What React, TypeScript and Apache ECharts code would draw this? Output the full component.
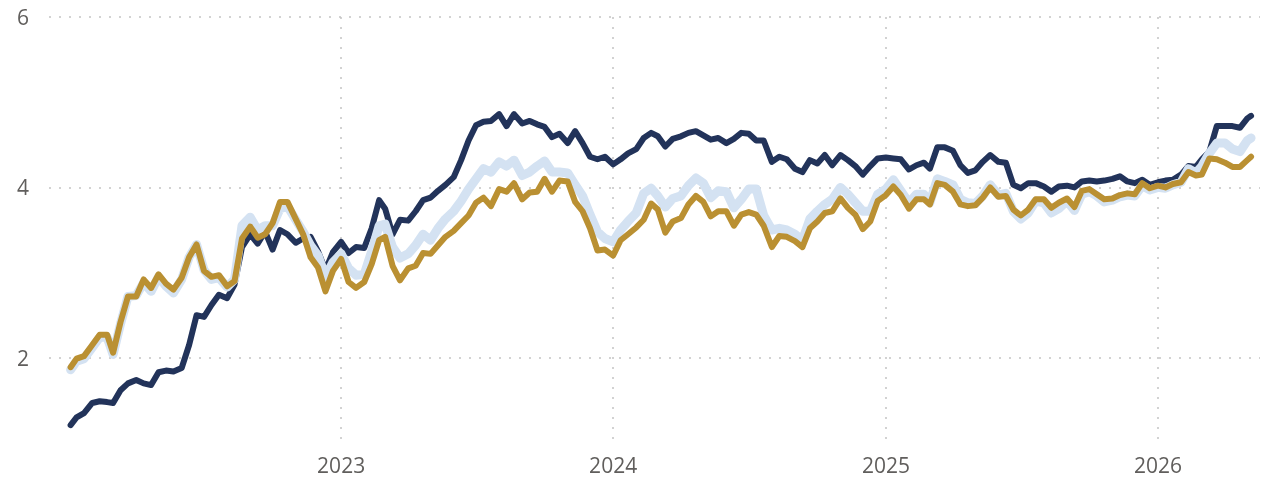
import React, { useEffect, useRef } from "react";
import * as echarts from "echarts";

const dates: string[] = [
  "2022-01-03","2022-01-11","2022-01-21","2022-02-01","2022-02-11","2022-02-21","2022-03-01","2022-03-11","2022-03-21",
  "2022-04-01","2022-04-11","2022-04-21","2022-05-01","2022-05-11","2022-05-21","2022-06-01","2022-06-11","2022-06-21",
  "2022-07-01","2022-07-11","2022-07-21","2022-08-01","2022-08-11","2022-08-21","2022-09-01","2022-09-11","2022-09-21",
  "2022-10-01","2022-10-11","2022-10-21","2022-11-01","2022-11-11","2022-11-21","2022-12-01","2022-12-11","2022-12-21",
  "2023-01-01","2023-01-11","2023-01-21","2023-02-01","2023-02-11","2023-02-21","2023-03-01","2023-03-11","2023-03-21",
  "2023-04-01","2023-04-11","2023-04-21","2023-05-01","2023-05-11","2023-05-21","2023-06-01","2023-06-11","2023-06-21",
  "2023-07-01","2023-07-11","2023-07-21","2023-08-01","2023-08-11","2023-08-21","2023-09-01","2023-09-11","2023-09-21",
  "2023-10-01","2023-10-11","2023-10-21","2023-11-01","2023-11-11","2023-11-21","2023-12-01","2023-12-11","2023-12-21",
  "2024-01-01","2024-01-11","2024-01-21","2024-02-01","2024-02-11","2024-02-21","2024-03-01","2024-03-11","2024-03-21",
  "2024-04-01","2024-04-11","2024-04-21","2024-05-01","2024-05-11","2024-05-21","2024-06-01","2024-06-11","2024-06-21",
  "2024-07-01","2024-07-11","2024-07-21","2024-08-01","2024-08-11","2024-08-21","2024-09-01","2024-09-11","2024-09-21",
  "2024-10-01","2024-10-11","2024-10-21","2024-11-01","2024-11-11","2024-11-21","2024-12-01","2024-12-11","2024-12-21",
  "2025-01-01","2025-01-11","2025-01-21","2025-02-01","2025-02-11","2025-02-21","2025-03-01","2025-03-11","2025-03-21",
  "2025-04-01","2025-04-11","2025-04-21","2025-05-01","2025-05-11","2025-05-21","2025-06-01","2025-06-11","2025-06-21",
  "2025-07-01","2025-07-11","2025-07-21","2025-08-01","2025-08-11","2025-08-21","2025-09-01","2025-09-11","2025-09-21",
  "2025-10-01","2025-10-11","2025-10-21","2025-11-01","2025-11-11","2025-11-21","2025-12-01","2025-12-11","2025-12-21",
  "2026-01-01","2026-01-11","2026-01-21","2026-02-01","2026-02-11","2026-02-21","2026-03-01","2026-03-11","2026-03-21",
  "2026-04-01","2026-04-11","2026-04-21","2026-05-01","2026-05-06",
];

const navySeries: number[] = [
  1.21,1.30,1.35, 1.47,1.49,1.48, 1.47,1.62,1.70, 1.74,1.70,1.68, 1.83,1.85,1.84, 1.88,2.15,2.50,
  2.48,2.62,2.74, 2.70,2.86,3.30, 3.45,3.34,3.48, 3.27,3.50,3.45, 3.35,3.40,3.42, 3.25,3.03,3.24,
  3.36,3.23,3.30, 3.29,3.52,3.85, 3.75,3.45,3.62, 3.61,3.72,3.85, 3.88,3.96,4.03, 4.12,4.32,4.55,
  4.73,4.77,4.78, 4.86,4.72,4.86, 4.75,4.78,4.74, 4.71,4.59,4.63, 4.52,4.66,4.52, 4.36,4.33,4.36,
  4.27,4.33,4.40, 4.45,4.58,4.64, 4.60,4.48,4.57, 4.60,4.64,4.66, 4.61,4.56,4.58, 4.52,4.57,4.64,
  4.63,4.55,4.55, 4.30,4.36,4.33, 4.22,4.18,4.32, 4.28,4.38,4.26, 4.38,4.32,4.25, 4.15,4.25,4.34,
  4.35,4.34,4.33, 4.21,4.26,4.29, 4.22,4.47,4.47, 4.43,4.26,4.17, 4.20,4.30,4.38, 4.30,4.29,4.03,
  3.99,4.05,4.05, 4.01,3.95,4.01, 4.02,4.00,4.07, 4.08,4.07,4.08, 4.10,4.13,4.07, 4.05,4.09,4.03,
  4.06,4.08,4.09, 4.15,4.25,4.24, 4.33,4.42,4.72, 4.72,4.72,4.70, 4.81,4.84,
];

const lightSeries: number[] = [
  1.86,1.96,1.99, 2.12,2.24,2.24, 2.04,2.40,2.72, 2.73,2.88,2.78, 2.95,2.84,2.76, 2.92,3.18,3.33,
  3.03,2.92,2.94, 2.83,2.92,3.55, 3.65,3.50,3.55, 3.55,3.75,3.78, 3.62,3.48,3.32, 3.20,2.95,3.12,
  3.22,3.05,2.97, 2.98,3.25,3.55, 3.57,3.30,3.17, 3.22,3.32,3.45, 3.38,3.52,3.63, 3.72,3.84,3.98,
  4.10,4.22,4.18, 4.30,4.25,4.32, 4.14,4.18,4.25, 4.31,4.18,4.18, 4.17,4.03,3.90, 3.68,3.48,3.40,
  3.36,3.50,3.60, 3.70,3.93,3.99, 3.90,3.77,3.87, 3.90,4.02,4.11, 4.05,3.88,3.96, 3.95,3.76,3.86,
  3.98,3.98,3.67, 3.50,3.52,3.50, 3.45,3.38,3.63, 3.72,3.80,3.86, 4.00,3.92,3.82, 3.72,3.72,3.92,
  3.98,4.09,3.96, 3.82,3.92,3.92, 3.82,4.10,4.07, 4.03,3.86,3.82, 3.81,3.90,4.03, 3.91,3.93,3.72,
  3.63,3.70,3.84, 3.82,3.70,3.75, 3.84,3.73,3.92, 3.95,3.90,3.83, 3.85,3.89,3.91, 3.90,4.02,3.97,
  4.00,3.99,4.03, 4.06,4.22,4.17, 4.25,4.40,4.52, 4.52,4.45,4.42, 4.55,4.58,
];

const goldSeries: number[] = [
  1.89,1.99,2.02, 2.15,2.27,2.27, 2.06,2.42,2.72, 2.72,2.92,2.82, 2.98,2.87,2.80, 2.94,3.18,3.33,
  3.02,2.95,2.97, 2.84,2.90,3.40, 3.54,3.41,3.45, 3.58,3.83,3.83, 3.63,3.45,3.18, 3.06,2.78,3.02,
  3.16,2.89,2.82, 2.89,3.10,3.38, 3.42,3.08,2.91, 3.05,3.08,3.23, 3.22,3.32,3.42, 3.49,3.58,3.67,
  3.82,3.88,3.78, 3.98,3.95,4.05, 3.86,3.94,3.95, 4.10,3.95,4.08, 4.07,3.83,3.72, 3.52,3.26,3.27,
  3.20,3.38,3.45, 3.53,3.62,3.81, 3.74,3.47,3.60, 3.64,3.80,3.90, 3.83,3.66,3.72, 3.72,3.55,3.68,
  3.71,3.68,3.55, 3.30,3.43,3.42, 3.37,3.30,3.52, 3.60,3.70,3.72, 3.87,3.76,3.68, 3.51,3.60,3.84,
  3.91,4.01,3.91, 3.75,3.86,3.86, 3.80,4.05,4.03, 3.95,3.80,3.78, 3.79,3.88,4.00, 3.89,3.90,3.74,
  3.67,3.74,3.86, 3.86,3.76,3.82, 3.87,3.77,3.96, 3.98,3.92,3.86, 3.87,3.91,3.93, 3.92,4.05,3.99,
  4.02,4.00,4.04, 4.06,4.18,4.14, 4.15,4.34,4.33, 4.29,4.24,4.24, 4.32,4.36,
];

const yLabelValues: number[] = [2, 4, 6];
const xLabelYears: string[] = ["2023-01-01", "2024-01-01", "2025-01-01", "2026-01-01"];
const xMin = "2021-12-05";
const xMax = "2026-05-18";

const ts = (d: string) => Date.UTC(+d.slice(0, 4), +d.slice(5, 7) - 1, +d.slice(8, 10));
const toPairs = (vals: number[]) => vals.map((v, i) => [ts(dates[i]), v]);

export default function App() {
  const ref = useRef<HTMLDivElement>(null);
  useEffect(() => {
    if (!ref.current) return;
    const chart = echarts.init(ref.current, null, { renderer: "svg" });
    const yearTs = xLabelYears.map(ts);
    const gridLine = { show: true, lineStyle: { color: "#c4c4c4", width: 1.5, type: [2, 8] as any } };
    const labelStyle = {
      color: "#605e5c",
      fontSize: 21,
      fontFamily: "'Open Sans', 'Segoe UI', sans-serif",
    };
    chart.setOption({
      animation: false,
      grid: { left: 49, right: 21, top: 17, bottom: 38, containLabel: false },
      xAxis: {
        type: "value",
        min: ts(xMin),
        max: ts(xMax),
        axisLine: { show: false },
        axisTick: { show: false, customValues: yearTs },
        axisLabel: {
          customValues: yearTs,
          formatter: (v: number) => String(new Date(v).getUTCFullYear()),
          margin: 11,
          ...labelStyle,
        },
        splitLine: gridLine,
      },
      yAxis: {
        type: "value",
        min: 1,
        max: 6,
        axisLine: { show: false },
        axisTick: { show: false, customValues: yLabelValues },
        axisLabel: {
          customValues: yLabelValues,
          margin: 20,
          ...labelStyle,
        },
        splitLine: gridLine,
      },
      series: [
        {
          name: "navy",
          type: "line",
          data: toPairs(navySeries),
          showSymbol: false,
          symbol: "none",
          z: 2,
          lineStyle: { color: "#22335a", width: 6, cap: "round", join: "round" },
        },
        {
          name: "light",
          type: "line",
          data: toPairs(lightSeries),
          showSymbol: false,
          symbol: "none",
          z: 3,
          lineStyle: { color: "#d4e2f2", width: 9, cap: "round", join: "round" },
        },
        {
          name: "gold",
          type: "line",
          data: toPairs(goldSeries),
          showSymbol: false,
          symbol: "none",
          z: 4,
          lineStyle: { color: "#ba9032", width: 6, cap: "round", join: "round" },
        },
      ],
    });
    return () => chart.dispose();
  }, []);
  return (
    <div
      ref={ref}
      style={{ position: "fixed", left: 0, top: 0, width: 1281, height: 481 }}
    />
  );
}
